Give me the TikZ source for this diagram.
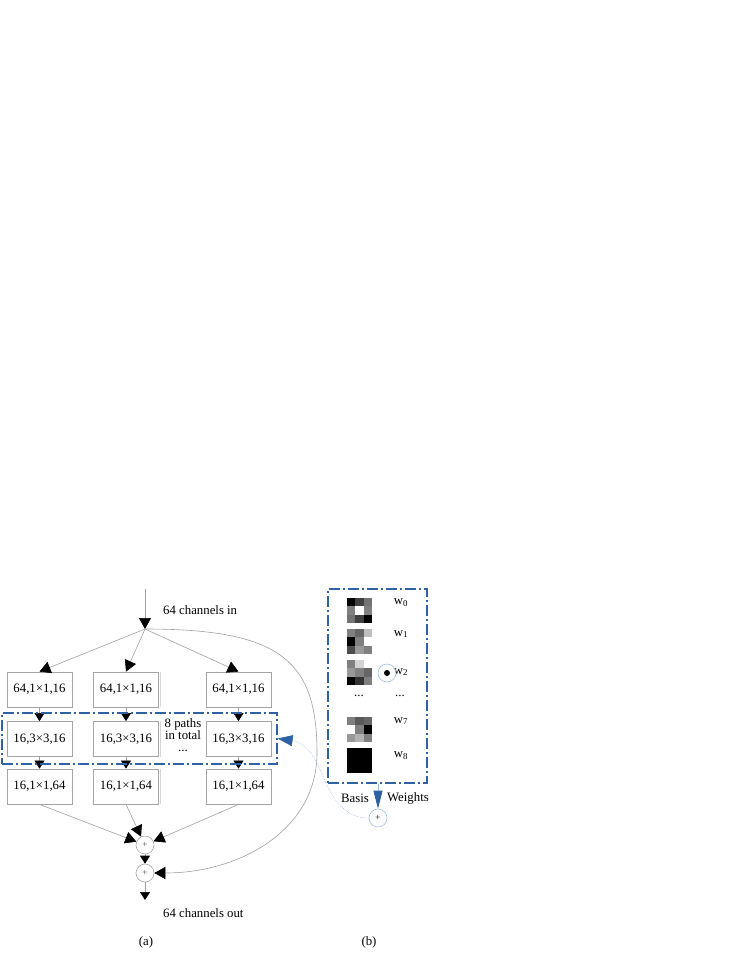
\documentclass[tikz,border=0pt]{standalone}
\usepackage{fontspec}
\setmainfont{Liberation Serif}
\usetikzlibrary{arrows.meta}
\definecolor{boxgray}{RGB}{165,165,165}
\definecolor{linegray}{RGB}{160,160,160}
\definecolor{shadegray}{RGB}{215,215,215}
\definecolor{dblue}{RGB}{46,98,165}
\definecolor{lblue}{RGB}{160,190,225}
\newcommand{\mykernelpic}[4]{% top y, row1, row2, row3 (darkness lists)
  \foreach \v [count=\i from 0] in {#2}{\fill[black!\v] (347+\i*8.34,#1) rectangle ++(8.34,8.34);}
  \foreach \v [count=\i from 0] in {#3}{\fill[black!\v] (347+\i*8.34,#1+8.34) rectangle ++(8.34,8.34);}
  \foreach \v [count=\i from 0] in {#4}{\fill[black!\v] (347+\i*8.34,#1+16.68) rectangle ++(8.34,8.34);}
}
\begin{document}
\begin{tikzpicture}[x=1pt,y=-1pt,
  font=\fontsize{12.8}{14}\selectfont,
  conv/.style={draw=boxgray, line width=0.8pt, minimum width=65pt, minimum height=35pt, inner sep=0pt},
  sumnode/.style={circle, draw=boxgray, line width=0.6pt, minimum size=18pt, inner sep=0pt, font=\fontsize{9}{9}\selectfont, text=darkgray},
  conn/.style={draw=linegray, line width=0.6pt, -{Triangle[length=11pt,width=12pt,color=black]}},
  shortconn/.style={draw=linegray, line width=0.6pt, -{Triangle[length=8pt,width=10pt,color=black]}},
  dashdot/.style={draw=dblue, line width=1.3pt, dash pattern=on 11pt off 3pt on 2pt off 3pt},
  lab/.style={inner sep=0pt}
]
\useasboundingbox (0,0) rectangle (747,967);

% ---------- (a) ----------
\coordinate (in) at (145,589);
\coordinate (br) at (145,629);
\node[lab, anchor=west] (inlab) at (163,610) {64 channels in};

\node[conv] (a1) at (39.5,689.5) {64,1×1,16};
\node[conv] (b1) at (126,689.5) {64,1×1,16};
\node[conv] (c1) at (238.5,689.5) {64,1×1,16};
\node[conv] (a2) at (39.5,739) {16,3×3,16};
\node[conv] (b2) at (126,739) {16,3×3,16};
\node[conv] (c2) at (238.5,739) {16,3×3,16};
\node[conv] (a3) at (39.5,786.5) {16,1×1,64};
\node[conv] (b3) at (126,786.5) {16,1×1,64};
\node[conv] (c3) at (238.5,786.5) {16,1×1,64};
\foreach \n in {b1,b2,b3}{
  \draw[shadegray, line width=1.4pt] ([xshift=1.4pt]\n.north east) -- ([xshift=1.4pt]\n.south east);
}

\node[lab, align=center, font=\fontsize{12.8}{12}\selectfont] (paths) at (183,729) {8 paths\\in total};
\node[lab] (dots) at (183,751) {...};

\node[sumnode] (s1) at (145,845) {+};
\node[sumnode] (s2) at (145,873) {+};
\coordinate (out) at (145,900);
\node[lab, anchor=west] (outlab) at (163,913) {64 channels out};
\node[lab] (capa) at (146,942) {(a)};

\draw[conn] (in) -- (br);
\draw[conn] (br) -- (a1.north);
\draw[conn] (br) -- (b1.north);
\draw[conn] (br) -- (c1.north);
\foreach \c in {a,b,c}{
  \draw[shortconn] (\c1.south) -- (\c2.north);
  \draw[shortconn] (\c2.south) -- (\c3.north);
}
\draw[conn] (a3.south) -- (s1);
\draw[conn] (b3.south) -- (s1);
\draw[conn] (c3.south) -- (s1);
\draw[shortconn] (s1) -- (s2);
\draw[shortconn] (s2) -- (out);
\draw[conn] (br) .. controls (280,629) and (317,660) .. (317,753)
               .. controls (317,830) and (240,873) .. (s2.east);

% dash-dot group around the 3x3 layer
\node[dashdot, minimum width=275pt, minimum height=51pt, inner sep=0pt] (grp) at (139.5,738.5) {};

% ---------- (b) ----------
\node[dashdot, minimum width=99pt, minimum height=194pt, inner sep=0pt] (bbox) at (377.5,686) {};

\mykernelpic{598}{100,75,55}{50,0,50}{55,75,100}
\mykernelpic{629}{50,60,25}{100,50,0}{70,40,50}
\mykernelpic{660}{50,17,0}{40,50,60}{100,80,50}
\mykernelpic{717}{50,65,60}{0,50,100}{40,30,50}
\mykernelpic{748}{100,100,100}{100,100,100}{100,100,100}

\node[lab] (w0) at (401,603) {w\textsubscript{0}};
\node[lab] (w1) at (401,634) {w\textsubscript{1}};
\node[lab] (w2) at (401,672) {w\textsubscript{2}};
\node[lab] (kd) at (359,696) {...};
\node[lab] (wd) at (400,696) {...};
\node[lab] (w7) at (401,721) {w\textsubscript{7}};
\node[lab] (w8) at (401,756) {w\textsubscript{8}};

\node[circle, draw=lblue, line width=0.6pt, minimum size=18pt, inner sep=0pt] (dotc) at (387,673) {};
\fill[black] (dotc.center) circle (3pt);

\node[circle, draw=lblue, line width=0.6pt, minimum size=18pt, inner sep=0pt, font=\fontsize{9}{9}\selectfont] (s3) at (378,818) {+};
\node[lab] (basis) at (355,798) {Basis};
\node[lab] (weights) at (408,798) {Weights};
\draw[draw=lblue, line width=0.8pt, -{Triangle[length=18pt,width=9pt,color=dblue]}] (bbox.south -| s3) -- (s3.north);
\draw[draw=lblue, line width=0.6pt, densely dotted, -{Triangle[length=15pt,width=11pt,color=dblue]}]
  (s3.west) .. controls (330,818) and (325,770) .. (310,752) .. controls (300,741) and (295,741) .. (grp.east);
\node[lab] (capb) at (369,942) {(b)};
\end{tikzpicture}
\end{document}
